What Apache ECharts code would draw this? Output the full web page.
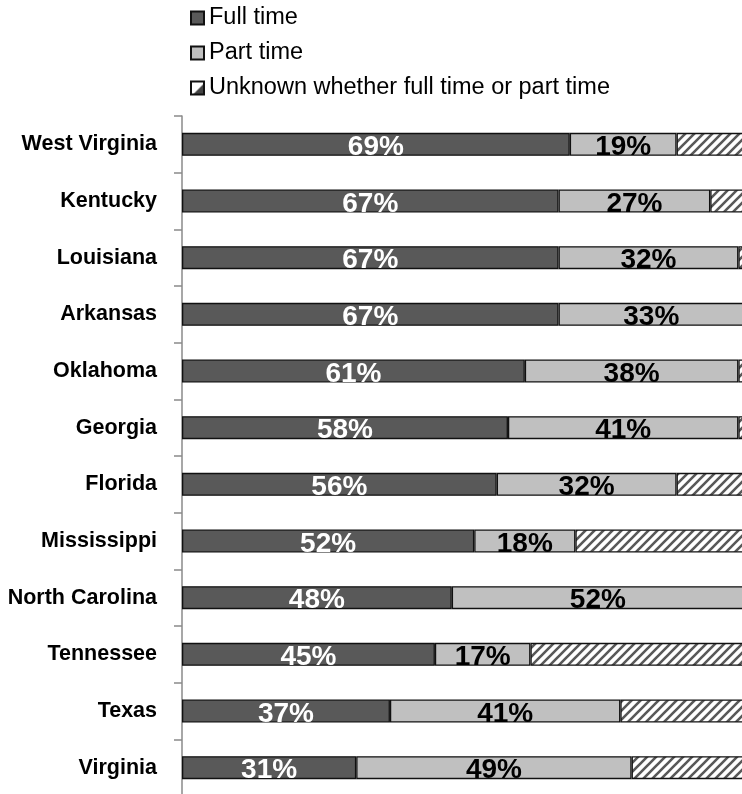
<!DOCTYPE html>
<html>
<head>
<meta charset="utf-8">
<script src="https://cdn.jsdelivr.net/npm/echarts@6/dist/echarts.min.js"></script>
<style>
    html,body{margin:0;padding:0;background:#fff;}
    #main{width:742px;height:794px;}
</style>
</head>
<body>
<div id="main"></div>
<script>
// states, top to bottom
var states = ["West Virginia", "Kentucky", "Louisiana", "Arkansas", "Oklahoma", "Georgia",
    "Florida", "Mississippi", "North Carolina", "Tennessee", "Texas", "Virginia"];
var fullTime = [69, 67, 67, 67, 61, 58, 56, 52, 48, 45, 37, 31];
var partTime = [19, 27, 32, 33, 38, 41, 32, 18, 52, 17, 41, 49];
var unknown = [12, 6, 1, 0, 1, 1, 12, 30, 0, 38, 22, 20];
var seriesNames = ["Full time", "Part time", "Unknown whether full time or part time"];

// hatch pattern for the "unknown" part
function makeHatch() {
    var c = document.createElement("canvas");
    var s = 9;
    c.width = s; c.height = s;
    var ctx = c.getContext("2d");
    ctx.fillStyle = "#fff";
    ctx.fillRect(0, 0, s, s);
    ctx.strokeStyle = "#595959";
    ctx.lineWidth = 2.6;
    ctx.beginPath();
    ctx.moveTo(-s, 2 * s); ctx.lineTo(2 * s, -s);
    ctx.moveTo(-2 * s, 2 * s); ctx.lineTo(s, -s);
    ctx.moveTo(0, 2 * s); ctx.lineTo(3 * s, -s);
    ctx.stroke();
    return c;
}
// small legend icon: white with a dark lower-right corner
function makeLegendHatch() {
    var c = document.createElement("canvas");
    c.width = 13; c.height = 13;
    var ctx = c.getContext("2d");
    ctx.fillStyle = "#fff";
    ctx.fillRect(0, 0, 13, 13);
    ctx.fillStyle = "#444";
    ctx.beginPath();
    ctx.moveTo(13, 2); ctx.lineTo(13, 13); ctx.lineTo(2, 13);
    ctx.closePath();
    ctx.fill();
    return c;
}

var FONT = "Liberation Sans, Arial, sans-serif";

function barSeries(name, data, color, labelColor) {
    return {
        name: name,
        type: "bar",
        stack: "all",
        barWidth: 23,
        data: data,
        itemStyle: {color: color, borderColor: "#111", borderWidth: 1.3},
        label: labelColor ? {
            show: true,
            position: "inside",
            offset: [0, 3],
            formatter: "{c}%",
            color: labelColor,
            fontFamily: FONT,
            fontWeight: "bold",
            fontSize: 28
        } : {show: false},
        emphasis: {disabled: true},
        animation: false
    };
}

var myChart = echarts.init(document.getElementById("main"));
myChart.setOption({
    backgroundColor: "#fff",
    animation: false,
    legend: {
        orient: "vertical",
        left: 190,
        top: 6,
        padding: 0,
        icon: "rect",
        itemWidth: 13,
        itemHeight: 13,
        itemGap: 11,
        selectedMode: false,
        textStyle: {fontFamily: FONT, fontSize: 23.5, lineHeight: 22, color: "#000"},
        data: [
            seriesNames[0],
            seriesNames[1],
            {name: seriesNames[2], itemStyle: {color: {image: makeLegendHatch(), repeat: "no-repeat"}}}
        ]
    },
    grid: {left: 182, right: -2, top: 116, bottom: -2, containLabel: false, outerBoundsMode: "none"},
    xAxis: {
        type: "value",
        min: 0,
        max: 100,
        show: false
    },
    yAxis: {
        type: "category",
        inverse: true,
        data: states,
        axisLine: {lineStyle: {color: "#8a8a8a", width: 1.5}},
        axisTick: {show: true, length: 8, lineStyle: {color: "#8a8a8a", width: 1.5}},
        axisLabel: {
            margin: 25,
            color: "#000",
            fontFamily: FONT,
            fontWeight: "bold",
            fontSize: 21.5
        }
    },
    series: [
        barSeries(seriesNames[0], fullTime, "#595959", "#fff"),
        barSeries(seriesNames[1], partTime, "#c0c0c0", "#000"),
        barSeries(seriesNames[2], unknown, {image: makeHatch(), repeat: "repeat"}, null)
    ]
});
</script>
</body>
</html>
